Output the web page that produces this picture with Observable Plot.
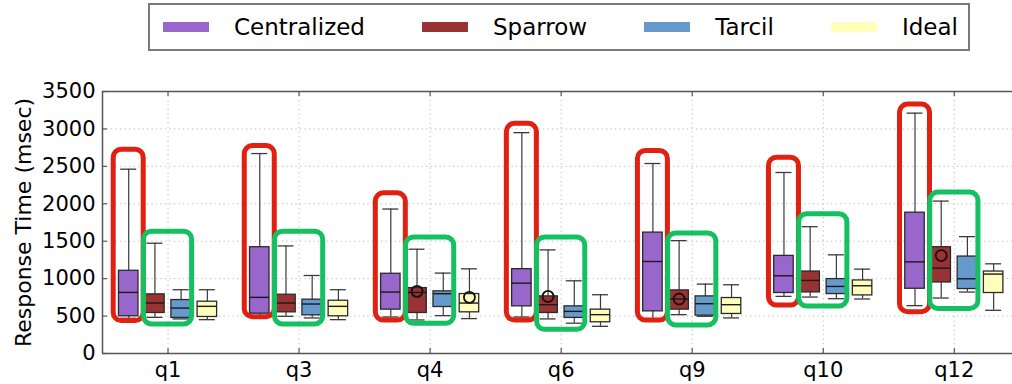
<!DOCTYPE html>
<html><head><meta charset="utf-8">
<script src="https://cdn.jsdelivr.net/npm/d3@7"></script>
<script src="https://cdn.jsdelivr.net/npm/@observablehq/plot@0.6"></script>
<style>
html,body{margin:0;padding:0;background:#fff;overflow:hidden;}
#wrap{position:relative;width:1012px;height:384px;font-family:"DejaVu Sans",sans-serif;}
#legend{position:absolute;left:148px;top:3px;width:822px;height:48px;border:2px solid #7a7a7a;box-sizing:border-box;display:flex;align-items:center;padding-left:13px;}
.item{display:flex;align-items:center;margin-right:57px;}
.sw{width:46px;height:10px;margin-right:25px;}
.lab{font-size:23px;color:#000;line-height:28px;}
#chart{position:absolute;left:0;top:58px;}
</style></head>
<body><div id="wrap"><div id="legend"></div><div id="chart"></div></div>
<script>
const categories = ["q1","q3","q4","q6","q9","q10","q12"];
const series = ["Centralized","Sparrow","Tarcil","Ideal"];
const colors = ["#9966cc","#993333","#6699cc","#ffffbb"];
// per series (rows) and category (columns)
const whiskerLow = [
  [470, 500, 488, 488, 452, 763, 639],
  [483, 497, 448, 462, 519, 754, 741],
  [462, 475, 506, 405, 497, 732, 821],
  [452, 452, 466, 363, 475, 728, 577]
];
const quart1 = [
  [497, 532, 586, 630, 563, 808, 865],
  [541, 550, 541, 541, 586, 816, 949],
  [475, 510, 621, 475, 506, 794, 861],
  [488, 497, 550, 417, 528, 776, 808]
];
const medians = [
  [816, 750, 821, 940, 1229, 1038, 1224],
  [674, 674, 816, 652, 728, 976, 1140],
  [607, 661, 799, 563, 665, 896, 998],
  [630, 630, 674, 519, 652, 905, 1061]
];
const quart3 = [
  [1105, 1420, 1065, 1127, 1615, 1304, 1881],
  [790, 785, 874, 763, 843, 1095, 1420],
  [714, 719, 830, 630, 763, 994, 1295],
  [692, 705, 794, 586, 741, 976, 1095]
];
const whiskerHigh = [
  [2462, 2671, 1930, 2950, 2538, 2418, 3211],
  [1473, 1437, 1393, 1384, 1508, 1694, 2036],
  [852, 1042, 1074, 971, 927, 1318, 1561],
  [852, 852, 1131, 785, 918, 1127, 1198]
];
// circular marks visible inside some boxes: [category, series, value]
const circles = [["q4","Sparrow",830],["q4","Ideal",750],["q6","Sparrow",763],["q9","Sparrow",728],["q12","Sparrow",1308]];
// hand-drawn annotation boxes (value extents)
const redTop = [2722, 2771, 2140, 3068, 2705, 2615, 3325];
const redBottom = [433, 485, 441, 441, 441, 641, 552];
const greenTop = [1627, 1627, 1551, 1551, 1604, 1861, 2150];
const greenBottom = [388, 388, 396, 316, 375, 628, 596];
const yTicks = [0,500,1000,1500,2000,2500,3000,3500];

// legend
const leg = document.getElementById("legend");
series.forEach((s,j)=>{
  const it = document.createElement("div"); it.className="item";
  const sw = document.createElement("div"); sw.className="sw"; sw.style.background=colors[j];
  const lb = document.createElement("span"); lb.className="lab"; lb.textContent=s;
  it.appendChild(sw); it.appendChild(lb); leg.appendChild(it);
});

const W=1012, H=326, mL=102, mR=0, mT=33, mB=31;
const unit = 131.05; // px per category
const px = p => p/unit;
const plotW = W-mL-mR, plotH = H-mT-mB;
const sIdx = s => series.indexOf(s);
const pos = (i,j) => i + 1 + (j - 1.5) * 0.2;
const rows = categories.flatMap((c,i)=>series.map((s,j)=>({
  cat:c, series:s, pos:pos(i,j),
  lo:whiskerLow[j][i], q1:quart1[j][i], med:medians[j][i], q3:quart3[j][i], hi:whiskerHigh[j][i]
})));
const ann = categories.map((c,i)=>({i, rt:redTop[i], rb:redBottom[i], gt:greenTop[i], gb:greenBottom[i]}));
const circ = circles.map(([c,s,v])=>({p:pos(categories.indexOf(c), sIdx(s)), v}));
const hw = px(9.75), cap = px(8);
const xTickPos = categories.map((c,i)=>i+1);
const gridCol = "#b8b8b8";

const chart = Plot.plot({
  width: W, height: H, marginLeft: mL, marginRight: mR, marginTop: mT, marginBottom: mB,
  style: {fontFamily: "DejaVu Sans", color: "#000", background: "#fff"},
  x: {type: "linear", domain: [0.5, 0.5 + plotW/unit]},
  y: {domain: [0, 3500]},
  color: {domain: series, range: colors},
  marks: [
    Plot.ruleY(yTicks.filter(d=>d>0 && d<3500), {stroke: gridCol, strokeDasharray: "1.2,3.3"}),
    Plot.ruleX(xTickPos, {stroke: gridCol, strokeDasharray: "1.2,3.3"}),
    Plot.ruleX(rows, {x:"pos", y1:"lo", y2:"hi", stroke:"#3a3a3a", strokeWidth:1.2}),
    Plot.ruleY(rows, {y:"lo", x1:d=>d.pos-cap, x2:d=>d.pos+cap, stroke:"#3a3a3a", strokeWidth:1.3}),
    Plot.ruleY(rows, {y:"hi", x1:d=>d.pos-cap, x2:d=>d.pos+cap, stroke:"#3a3a3a", strokeWidth:1.3}),
    Plot.rect(rows, {x1:d=>d.pos-hw, x2:d=>d.pos+hw, y1:"q1", y2:"q3", fill:"series", stroke:"#2a2a2a", strokeWidth:1.3}),
    Plot.ruleY(rows, {y:"med", x1:d=>d.pos-hw, x2:d=>d.pos+hw, stroke:"#1a1a1a", strokeWidth:1.4}),
    Plot.dot(circ, {x:"p", y:"v", r:5.5, stroke:"#111", strokeWidth:1.8, fill:"none"}),
    // frame
    Plot.ruleX([0.5], {stroke:"#555", strokeWidth:1.5}),
    Plot.ruleY([0, 3500], {stroke:"#555", strokeWidth:1.5}),
    Plot.tickY(yTicks, {y:d=>d, insetRight: plotW-5, stroke:"#555", strokeWidth:1.2}),
    Plot.tickX(xTickPos, {x:d=>d, insetTop: plotH-5, stroke:"#555", strokeWidth:1.2}),
    Plot.tickX(xTickPos, {x:d=>d, insetBottom: plotH-5, stroke:"#555", strokeWidth:1.2}),
    // annotations
    Plot.rect(ann, {x1:d=>pos(d.i,0)-px(15), x2:d=>pos(d.i,0)+px(15), y1:"rb", y2:"rt", rx:8, fill:"none", stroke:"#e02010", strokeWidth:5}),
    Plot.rect(ann, {x1:d=>pos(d.i,1)-px(11), x2:d=>pos(d.i,2)+px(11), y1:"gb", y2:"gt", rx:8, fill:"none", stroke:"#14c060", strokeWidth:5}),
    Plot.axisY({ticks: yTicks, tickFormat: d=>String(d), tickSize: 0, tickPadding: 7, fontSize: 21, label: null}),
    Plot.axisX({ticks: xTickPos, tickFormat: d=>categories[d-1], tickSize: 0, tickPadding: 9, fontSize: 21, label: null}),
    Plot.text(["Response Time (msec)"], {frameAnchor:"left", dx:-79, rotate:-90, textAnchor:"middle", fontSize:22, fill:"#000"})
  ]
});
document.getElementById("chart").appendChild(chart);
</script></body></html>
